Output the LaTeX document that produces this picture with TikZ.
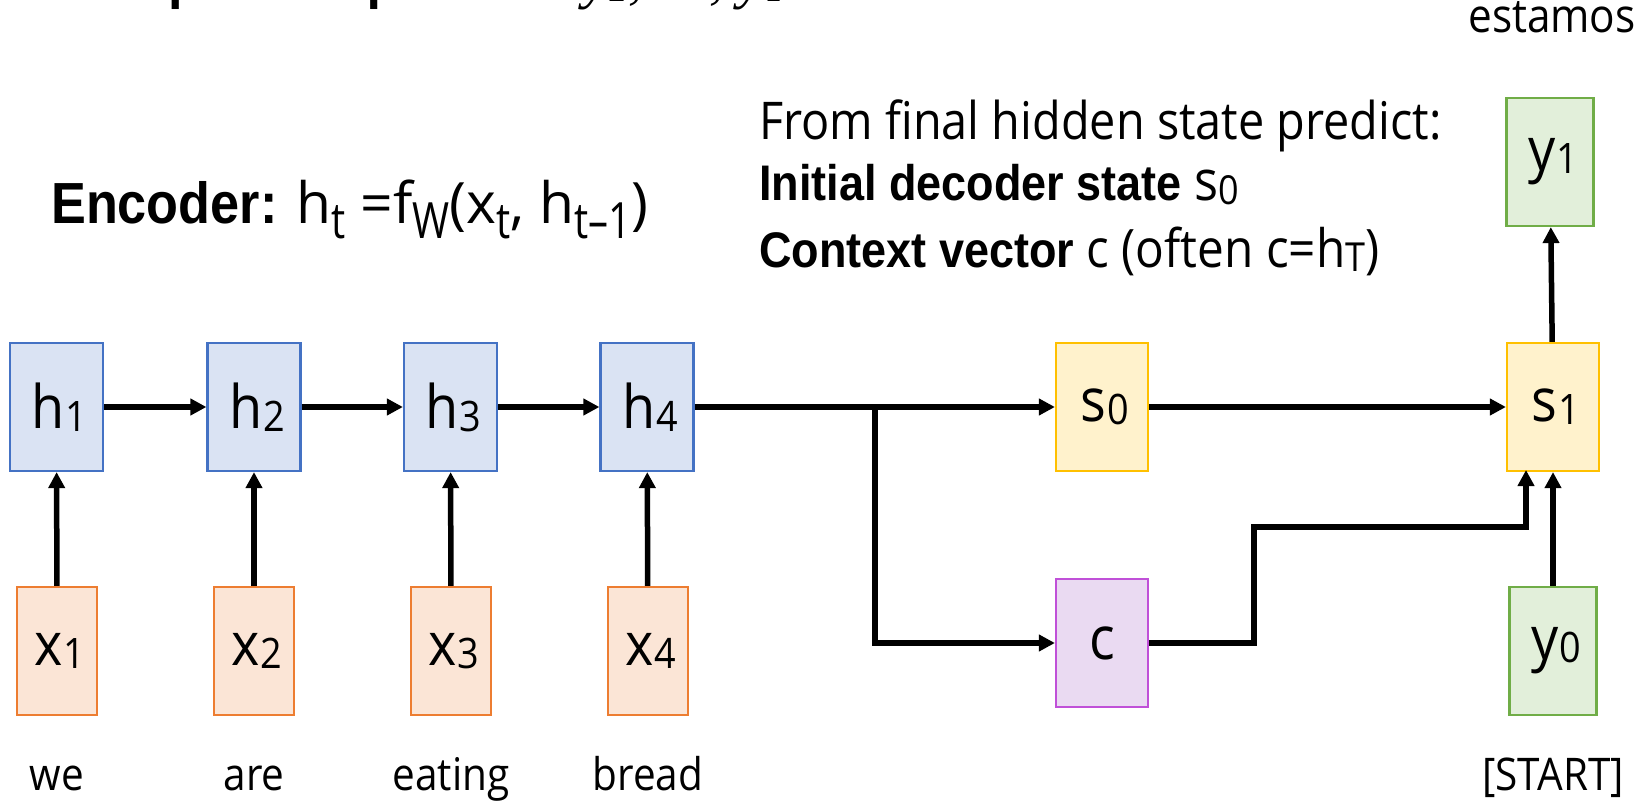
\documentclass[tikz,border=0pt]{standalone}
\usepackage{fontspec}
\usetikzlibrary{arrows.meta}
\newfontfamily\segoe[FakeStretch=0.9]{Open Sans}
\newfontfamily\segoew{Open Sans}
\newfontfamily\arialfam[FakeStretch=0.9]{Liberation Sans}
\newfontfamily\mathlike{Liberation Serif}

\definecolor{hfill}{HTML}{DAE3F3}\definecolor{hdraw}{HTML}{4472C4}
\definecolor{xfill}{HTML}{FBE5D6}\definecolor{xdraw}{HTML}{ED7D31}
\definecolor{sfill}{HTML}{FFF2CC}\definecolor{sdraw}{HTML}{FFC000}
\definecolor{cfill}{HTML}{EADAF2}\definecolor{cdraw}{HTML}{C050D8}
\definecolor{yfill}{HTML}{E2EFDA}\definecolor{ydraw}{HTML}{70AD47}

% box label: letter with a small, slightly lowered index
\newcommand\lbl[2]{{\segoe\fontsize{60}{64}\selectfont\kern6pt #1\kern1pt\raisebox{-3pt}{\fontsize{42}{44}\selectfont #2}}}
% narrow, deeply lowered index of the encoder formula
\newcommand\dsub[1]{\lower15pt\hbox{\scalebox{0.8}[1]{\fontsize{50}{50}\selectfont #1}}}
% index in the text lines
\newcommand\tsub[1]{\lower4pt\hbox{\fontsize{40}{44}\selectfont #1}}

\tikzset{
  cell/.style={rectangle, line width=2.2pt, inner sep=0pt, minimum width=93pt, minimum height=128pt},
  hcell/.style={cell, fill=hfill, draw=hdraw},
  xcell/.style={cell, fill=xfill, draw=xdraw, minimum width=80pt},
  scell/.style={cell, fill=sfill, draw=sdraw, minimum width=92pt},
  ccell/.style={cell, fill=cfill, draw=cdraw, minimum width=92pt},
  ycell/.style={cell, fill=yfill, draw=ydraw, minimum width=87pt},
  link/.style={line width=6pt, -{Triangle[length=16pt,width=16pt]}},
  uplink/.style={line width=5.5pt, -{Triangle[length=16pt,width=16pt]}},
  word/.style={font=\segoe\fontsize{45}{50}\selectfont, inner sep=0pt, anchor=base},
  txt/.style={inner sep=0pt, anchor=base west},
}

\begin{document}
\begin{tikzpicture}[x=1pt,y=-1pt]
\useasboundingbox (0,0) rectangle (1637,802);
\clip (0,0) rectangle (1637,802);
\fill[white] (0,0) rectangle (1637,802);

% heading, almost all of it above the top edge
\node[txt] (head) at (78,-2) {{\arialfam\bfseries\fontsize{58}{60}\selectfont Output: Sequence }\kern36pt{\mathlike\itshape\fontsize{58}{60}\selectfont y\tsub{1}, \dots, y\tsub{T'}}};

% encoder
\node[hcell] (h1) at (56.5,407) {\lbl{h}{1}};
\node[hcell] (h2) at (254,407) {\lbl{h}{2}};
\node[hcell] (h3) at (450.5,407) {\lbl{h}{3}};
\node[hcell] (h4) at (647,407) {\lbl{h}{4}};
\node[xcell] (x1) at (57,651) {\lbl{x}{1}};
\node[xcell] (x2) at (254,651) {\lbl{x}{2}};
\node[xcell] (x3) at (451,651) {\lbl{x}{3}};
\node[xcell] (x4) at (648,651) {\lbl{x}{4}};

\node[word] (w1) at (57,790) {we};
\node[word] (w2) at (254,790) {are};
\node[word] (w3) at (451,790) {eating};
\node[word] (w4) at (648,790) {bread};

% decoder side
\node[scell] (s0) at (1102,407) {\lbl{s}{0}};
\node[ccell] (c) at (1102,643) {{\segoe\fontsize{60}{64}\selectfont c}};
\node[scell] (s1) at (1553,407) {\lbl{s}{1}};
\node[ycell] (y0) at (1553,651) {\lbl{y}{0}};
\node[ycell] (y1) at (1550,162) {\lbl{y}{1}};
\node[word, font=\segoe\fontsize{47}{50}\selectfont] (wout) at (1552,33) {estamos};
\node[word] (wstart) at (1553,790) {[START]};

% text
\node[txt] (enc) at (51,224) {{\arialfam\bfseries\fontsize{58}{60}\selectfont Encoder: }{\segoew\fontsize{57}{60}\selectfont h\dsub{t} =f\dsub{W}(x\dsub{t}, h\dsub{t–1})}};
\node[txt] (t1) at (759,140) {\segoe\fontsize{52}{60}\selectfont From final hidden state predict:};
\node[txt] (t2) at (759,201) {{\arialfam\bfseries\fontsize{50}{60}\selectfont Initial decoder state }{\segoe\fontsize{56}{60}\selectfont s\tsub{0}}};
\node[txt] (t3) at (759,268) {{\arialfam\bfseries\fontsize{50}{60}\selectfont Context vector }{\segoe\fontsize{53}{60}\selectfont c (often c=h\tsub{T})}};

% connectors
\draw[link] (h1) -- (h2);
\draw[link] (h2) -- (h3);
\draw[link] (h3) -- (h4);
\draw[uplink] (x1) -- (h1);
\draw[uplink] (x2) -- (h2);
\draw[uplink] (x3) -- (h3);
\draw[uplink] (x4) -- (h4);

\coordinate (split) at (875,407);
\coordinate (cturn) at (1254,527);
\coordinate (cin) at (1526,470);
\draw[link] (h4) -- (s0);
\draw[link] (split) |- (c.west);
\draw[link] (s0) -- (s1);
\draw[link] (c.east) -| (cturn) -| (cin);
\draw[uplink] (y0) -- (s1);
\draw[uplink] (s1) -- (y1);
\end{tikzpicture}
\end{document}
